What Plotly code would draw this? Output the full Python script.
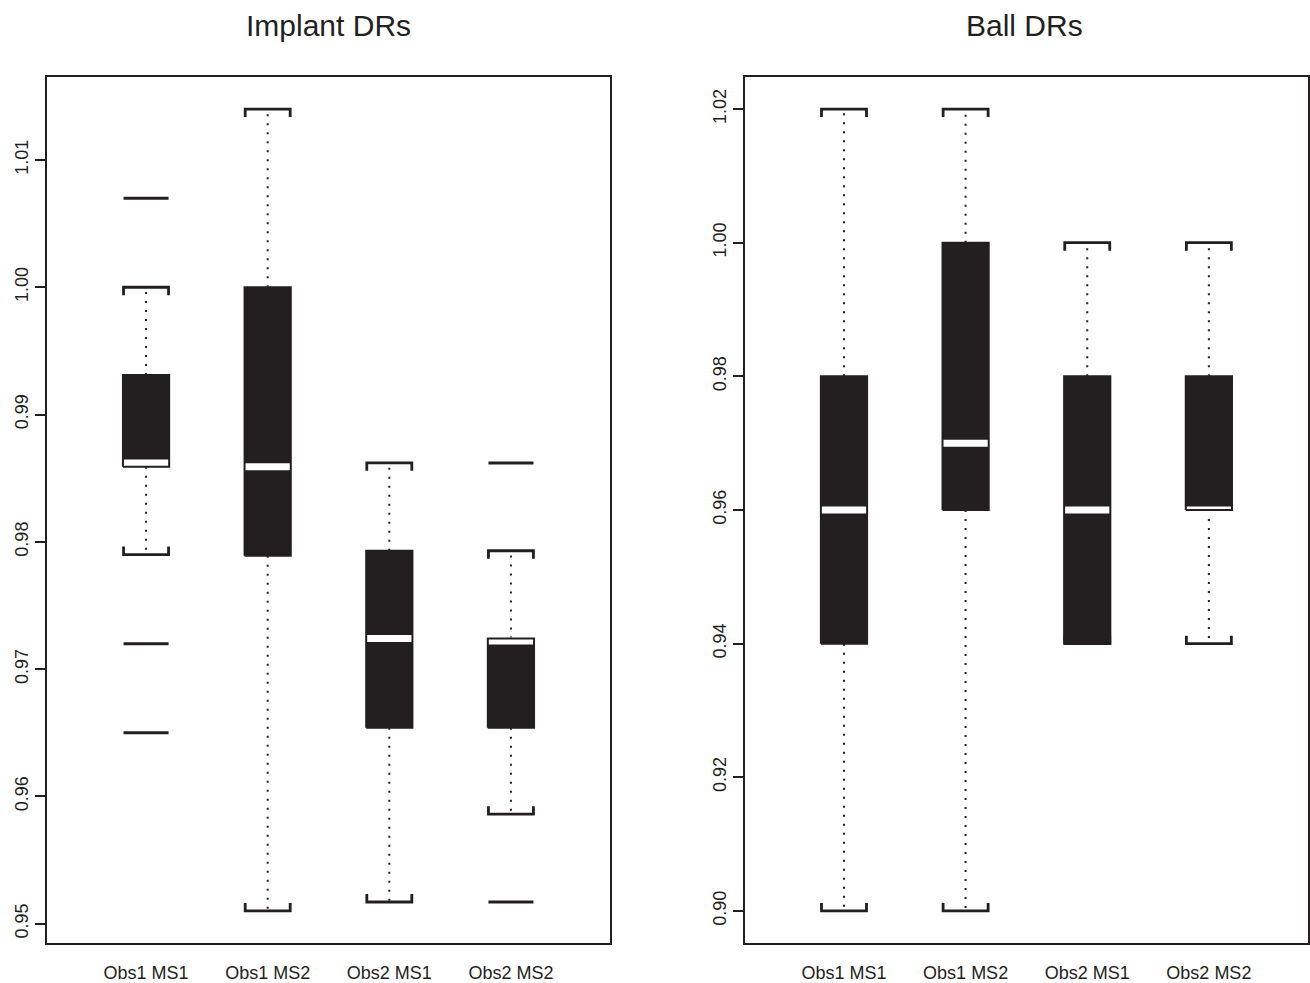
import plotly.graph_objects as go

# ---------------- data ----------------
groups = ["Obs1 MS1", "Obs1 MS2", "Obs2 MS1", "Obs2 MS2"]

implant_lower = [0.9790, 0.9510, 0.9517, 0.9586]
implant_q1 = [0.9859, 0.9789, 0.9654, 0.9654]
implant_median = [0.9862, 0.9859, 0.9724, 0.9722]
implant_q3 = [0.9931, 1.0000, 0.9793, 0.9724]
implant_upper = [1.0000, 1.0140, 0.9862, 0.9793]
implant_outliers = [[1.0070, 0.9720, 0.9650], [], [], [0.9862, 0.9517]]

ball_lower = [0.90, 0.90, 0.94, 0.94]
ball_q1 = [0.94, 0.96, 0.94, 0.96]
ball_median = [0.96, 0.97, 0.96, 0.96]
ball_q3 = [0.98, 1.00, 0.98, 0.98]
ball_upper = [1.02, 1.02, 1.00, 1.00]
ball_outliers = [[], [], [], []]

implant_ticks = [0.95, 0.96, 0.97, 0.98, 0.99, 1.00, 1.01]
ball_ticks = [0.90, 0.92, 0.94, 0.96, 0.98, 1.00, 1.02]

titles = ["Implant DRs", "Ball DRs"]

# ---------------- style ----------------
INK = "#231f20"
FONT = "Liberation Sans, Arial, Helvetica, sans-serif"
W, H = 1310, 983
MT, MB = 77, 35
PLOT_H = H - MT - MB
BOX_HW = 0.19
CAP_HW = 0.185
CAP_PX = 8

fig = go.Figure()


def yrange(lower, upper, outliers):
    vals = list(lower) + list(upper) + [v for o in outliers for v in o]
    lo, hi = min(vals), max(vals)
    pad = 0.04 * (hi - lo)
    return [lo - pad, hi + pad]


def add_panel(xa, ya, lower, q1, med, q3, upper, outliers):
    rng = yrange(lower, upper, outliers)
    tick = CAP_PX / PLOT_H * (rng[1] - rng[0])
    xs = list(range(len(groups)))

    # box fills
    fx, fy = [], []
    for i in xs:
        fx += [i - BOX_HW, i + BOX_HW, i + BOX_HW, i - BOX_HW, i - BOX_HW, None]
        fy += [q1[i], q1[i], q3[i], q3[i], q1[i], None]
    fig.add_trace(go.Scatter(x=fx, y=fy, mode="lines", fill="toself",
                             fillcolor=INK, line=dict(width=0, color=INK),
                             xaxis=xa, yaxis=ya, hoverinfo="skip"))
    # dotted whiskers
    wx, wy = [], []
    for i in xs:
        if upper[i] > q3[i]:
            wx += [i, i, None]
            wy += [q3[i], upper[i], None]
        if lower[i] < q1[i]:
            wx += [i, i, None]
            wy += [q1[i], lower[i], None]
    fig.add_trace(go.Scatter(x=wx, y=wy, mode="lines",
                             line=dict(width=2, color=INK, dash="2px,7px"),
                             xaxis=xa, yaxis=ya, hoverinfo="skip"))
    # bracket caps
    cx, cy = [], []
    for i in xs:
        cx += [i - CAP_HW, i - CAP_HW, i + CAP_HW, i + CAP_HW, None]
        cy += [upper[i] - tick, upper[i], upper[i], upper[i] - tick, None]
        cx += [i - CAP_HW, i - CAP_HW, i + CAP_HW, i + CAP_HW, None]
        cy += [lower[i] + tick, lower[i], lower[i], lower[i] + tick, None]
    fig.add_trace(go.Scatter(x=cx, y=cy, mode="lines",
                             line=dict(width=2.8, color=INK),
                             xaxis=xa, yaxis=ya, hoverinfo="skip"))
    # outliers as dashes
    ox, oy = [], []
    for i in xs:
        for v in outliers[i]:
            ox += [i - CAP_HW, i + CAP_HW, None]
            oy += [v, v, None]
    if ox:
        fig.add_trace(go.Scatter(x=ox, y=oy, mode="lines",
                                 line=dict(width=3, color=INK),
                                 xaxis=xa, yaxis=ya, hoverinfo="skip"))
    # white medians
    mx, my = [], []
    for i in xs:
        mx += [i - BOX_HW, i + BOX_HW, None]
        my += [med[i], med[i], None]
    fig.add_trace(go.Scatter(x=mx, y=my, mode="lines",
                             line=dict(width=7, color="white"),
                             xaxis=xa, yaxis=ya, hoverinfo="skip"))
    # box borders
    fig.add_trace(go.Scatter(x=fx, y=fy, mode="lines",
                             line=dict(width=2, color=INK),
                             xaxis=xa, yaxis=ya, hoverinfo="skip"))
    return rng


r1 = add_panel("x", "y", implant_lower, implant_q1, implant_median,
               implant_q3, implant_upper, implant_outliers)
r2 = add_panel("x2", "y2", ball_lower, ball_q1, ball_median,
               ball_q3, ball_upper, ball_outliers)

dom1 = [47 / W, 611 / W]
dom2 = [746 / W, 1.0]

xcommon = dict(range=[-0.815, 3.815], tickvals=list(range(len(groups))),
               ticktext=groups, ticks="", showgrid=False, zeroline=False,
               showline=True, mirror=True, linecolor=INK, linewidth=2,
               tickfont=dict(family=FONT, size=18, color=INK),
               ticklabelstandoff=12, fixedrange=True)
ycommon = dict(showgrid=False, zeroline=False, showline=True, mirror=True,
               linecolor=INK, linewidth=2, ticks="outside", ticklen=10,
               tickwidth=2, tickcolor=INK, tickangle=-90,
               tickfont=dict(family=FONT, size=18, color=INK),
               tickformat=".2f", fixedrange=True)

fig.update_layout(
    width=W, height=H,
    margin=dict(l=0, r=0, t=MT, b=MB),
    paper_bgcolor="white", plot_bgcolor="white",
    showlegend=False,
    xaxis=dict(domain=dom1, anchor="y", **xcommon),
    xaxis2=dict(domain=dom2, anchor="y2", **xcommon),
    yaxis=dict(range=r1, tickvals=implant_ticks, anchor="x", **ycommon),
    yaxis2=dict(range=r2, tickvals=ball_ticks, anchor="x2", **ycommon),
    annotations=[
        dict(text=titles[0], x=(dom1[0] + dom1[1]) / 2, y=1 + (MT - 25) / PLOT_H,
             xref="paper", yref="paper", showarrow=False, xanchor="center",
             yanchor="middle", font=dict(family=FONT, size=30, color=INK)),
        dict(text=titles[1], x=(dom2[0] + 1.0) / 2 - 2 / W, y=1 + (MT - 25) / PLOT_H,
             xref="paper", yref="paper", showarrow=False, xanchor="center",
             yanchor="middle", font=dict(family=FONT, size=30, color=INK)),
    ],
)

fig.write_html(
    "out.html",
    config={"displayModeBar": False},
    post_script="document.body.style.margin='0';document.body.style.overflow='hidden';",
)
